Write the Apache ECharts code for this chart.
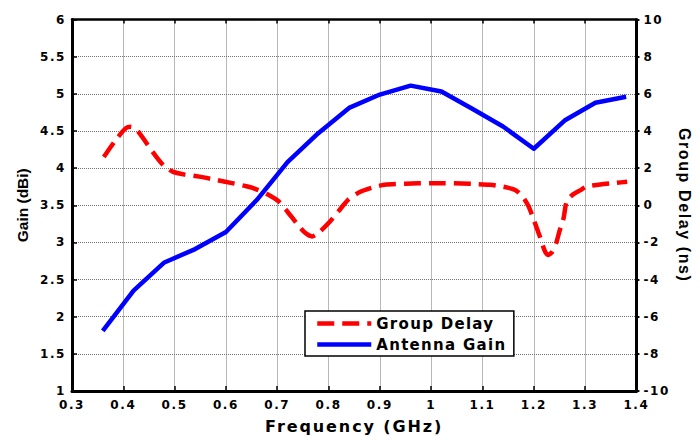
<!DOCTYPE html>
<html>
<head>
<meta charset="utf-8">
<script src="https://cdn.jsdelivr.net/npm/echarts@6/dist/echarts.min.js"></script>
<style>
  html, body { margin: 0; padding: 0; background: #fff; }
  #chart { width: 700px; height: 440px; }
  /* widen the bold lettering a little */
  #chart svg text[style*="12px"][style*="DejaVu"] { letter-spacing: 1.6px; }
  #chart svg text[style*="15px"][style*="DejaVu"] { letter-spacing: 1.3px; }
  #chart svg text[style*="16px"][style*="DejaVu"] { letter-spacing: 1.9px; }
  #chart svg text[style*="16px"][style*="Liberation"] { letter-spacing: 1.6px; }
</style>
</head>
<body>
<div id="chart"></div>
<script>
// Antenna gain (dBi) sampled every 60 MHz
const gainFreq = [0.36, 0.42, 0.48, 0.54, 0.60, 0.66, 0.72, 0.78, 0.84, 0.90, 0.96, 1.02, 1.08, 1.14, 1.20, 1.26, 1.32, 1.38];
const gainDbi  = [1.81, 2.35, 2.73, 2.91, 3.14, 3.57, 4.08, 4.47, 4.81, 4.99, 5.11, 5.03, 4.80, 4.56, 4.26, 4.64, 4.88, 4.96];

// Group delay (ns)
const delayFreq = [0.362, 0.385, 0.405, 0.415, 0.428, 0.445, 0.464, 0.48, 0.496, 0.52, 0.548, 0.58, 0.612, 0.64, 0.658, 0.68, 0.703, 0.72, 0.74, 0.755, 0.768, 0.78, 0.80, 0.82, 0.838, 0.86, 0.885, 0.909, 0.95, 1.00, 1.026, 1.06, 1.09, 1.115, 1.14, 1.158, 1.168, 1.18, 1.19, 1.20, 1.212, 1.222, 1.228, 1.236, 1.244, 1.25, 1.258, 1.264, 1.275, 1.29, 1.303, 1.33, 1.36, 1.382];
const delayNs   = [2.60, 3.50, 4.15, 4.22, 4.00, 3.35, 2.62, 2.10, 1.81, 1.65, 1.54, 1.37, 1.19, 1.02, 0.87, 0.60, 0.20, -0.35, -1.05, -1.50, -1.68, -1.50, -0.96, -0.30, 0.29, 0.70, 0.95, 1.10, 1.16, 1.19, 1.19, 1.17, 1.14, 1.10, 1.00, 0.88, 0.74, 0.40, -0.07, -0.79, -1.70, -2.50, -2.68, -2.50, -2.00, -1.40, -0.70, 0.20, 0.55, 0.80, 1.01, 1.12, 1.20, 1.27];

// Axis ranges
const freqRange  = [0.3, 1.4, 0.1];
const gainRange  = [1, 6, 0.5];
const delayRange = [-10, 10, 2];

const seriesNames = ['Group Delay', 'Antenna Gain'];

const tickFont = { color: '#000', fontFamily: 'DejaVu Sans', fontWeight: 'bold', fontSize: 12 };
const gridLine = { show: true, lineStyle: { color: '#707070', width: 1, type: 'dotted' } };
const boxLine  = { show: true, onZero: false, lineStyle: { color: '#000', width: 3 } };

const chart = echarts.init(document.getElementById('chart'), null, { renderer: 'svg' });

chart.setOption({
  animation: false,
  backgroundColor: '#fff',
  grid: { left: 72, right: 58, top: 19.5, bottom: 49, containLabel: false },
  legend: {
    data: seriesNames,
    orient: 'vertical',
    left: 305,
    top: 311,
    itemWidth: 54,
    itemHeight: 14,
    itemGap: 6,
    padding: [5, 23, 4, 10],
    backgroundColor: '#fff',
    borderColor: '#000',
    borderWidth: 1.5,
    borderRadius: 0,
    itemStyle: { opacity: 0 },
    lineStyle: { width: 4.5 },
    textStyle: { color: '#000', fontFamily: 'DejaVu Sans', fontWeight: 'bold', fontSize: 15 }
  },
  xAxis: [
    {
      type: 'value',
      min: freqRange[0], max: freqRange[1], interval: freqRange[2],
      position: 'bottom',
      name: 'Frequency (GHz)',
      nameLocation: 'middle',
      nameGap: 27,
      nameTextStyle: { color: '#000', fontFamily: 'DejaVu Sans', fontWeight: 'bold', fontSize: 16 },
      axisLine: boxLine,
      axisTick: { show: true, inside: true, length: 5, lineStyle: { color: '#000', width: 1.5 } },
      axisLabel: Object.assign({ margin: 8, formatter: v => String(+v.toFixed(1)) }, tickFont),
      splitLine: gridLine
    },
    {
      type: 'value',
      min: freqRange[0], max: freqRange[1], interval: freqRange[2],
      position: 'top',
      axisLine: { show: true, onZero: false, lineStyle: { color: '#000', width: 2.5 } },
      axisTick: { show: true, inside: true, length: 4, lineStyle: { color: '#000', width: 1.5 } },
      axisLabel: { show: false },
      splitLine: { show: false }
    }
  ],
  yAxis: [
    {
      type: 'value',
      min: gainRange[0], max: gainRange[1], interval: gainRange[2],
      position: 'left',
      name: 'Gain (dBi)',
      nameLocation: 'middle',
      nameGap: 42,
      nameTextStyle: { color: '#000', fontFamily: 'Liberation Sans', fontWeight: 'bold', fontSize: 15.5 },
      axisLine: boxLine,
      axisTick: { show: true, inside: true, length: 5, lineStyle: { color: '#000', width: 1.5 } },
      axisLabel: Object.assign({ margin: 6, formatter: v => String(+v.toFixed(1)) }, tickFont),
      splitLine: gridLine
    },
    {
      type: 'value',
      min: delayRange[0], max: delayRange[1], interval: delayRange[2],
      position: 'right',
      name: 'Group Delay (ns)',
      nameLocation: 'middle',
      nameRotate: -90,
      nameGap: 39,
      nameTextStyle: { color: '#000', fontFamily: 'Liberation Sans', fontWeight: 'bold', fontSize: 16 },
      axisLine: boxLine,
      axisTick: { show: true, inside: false, length: 3, lineStyle: { color: '#000', width: 2 } },
      axisLabel: Object.assign({ margin: 7 }, tickFont),
      splitLine: { show: false }
    }
  ],
  series: [
    {
      name: seriesNames[0],
      type: 'line',
      yAxisIndex: 1,
      symbol: 'none',
      smooth: 0.25,
      data: delayFreq.map((f, i) => [f, delayNs[i]]),
      lineStyle: { color: '#ff0000', width: 4.5, type: [17, 8], cap: 'butt' },
      itemStyle: { color: '#ff0000' },
      z: 2
    },
    {
      name: seriesNames[1],
      type: 'line',
      yAxisIndex: 0,
      symbol: 'none',
      smooth: false,
      data: gainFreq.map((f, i) => [f, gainDbi[i]]),
      lineStyle: { color: '#0000ff', width: 4.5, join: 'round' },
      itemStyle: { color: '#0000ff' },
      z: 3
    }
  ]
});
</script>
</body>
</html>
